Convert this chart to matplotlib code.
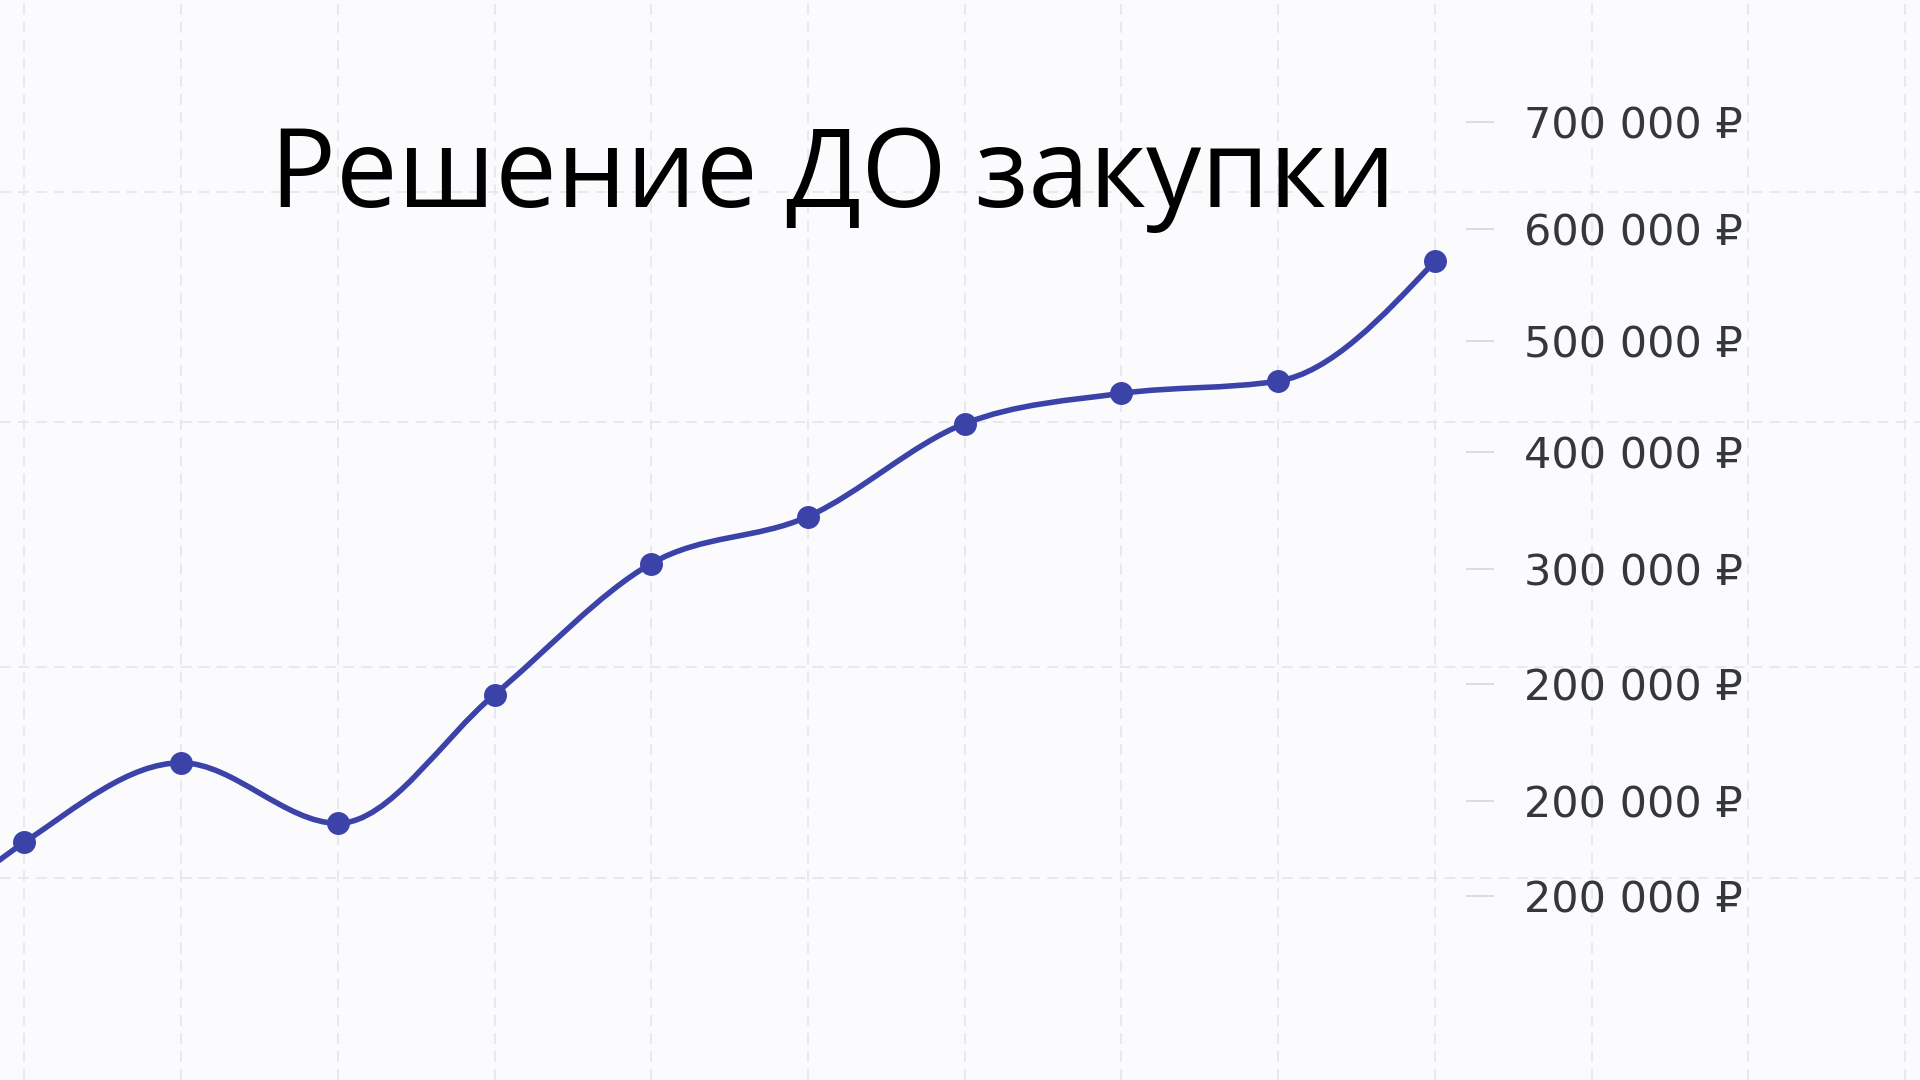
import matplotlib.pyplot as plt
from matplotlib.path import Path
from matplotlib.patches import PathPatch

# chart values
points_x = [-1, 0, 1, 2, 3, 4, 5, 6, 7, 8, 9]
points_y = [-60000, 57000, 128000, 74000, 189000, 306000, 348000, 431000, 458000, 469000, 576000]
tick_values = [700000, 605000, 505000, 406000, 301000, 198000, 94000, 9000]
tick_labels = ["700 000 ₽", "600 000 ₽", "500 000 ₽", "400 000 ₽",
               "300 000 ₽", "200 000 ₽", "200 000 ₽", "200 000 ₽"]
grid_values = [637656, 432031, 213281, 25156]
grid_x = list(range(0, 13))
title = "Решение ДО закупки"

line_color = '#3b42a8'
grid_color = '#e6e7ee'
bg = '#fbfbfd'

x_lim = (-0.156, 12.096)
y_lim = (-155312, 809375)


def sign(v):
    return (v > 0) - (v < 0)


# monotone cubic curve through the points, drawn as Bezier segments
def smooth_path(xs, ys):
    n = len(xs)
    t = [0.0] * n
    for i in range(1, n - 1):
        h0 = xs[i] - xs[i - 1]
        h1 = xs[i + 1] - xs[i]
        s0 = (ys[i] - ys[i - 1]) / h0
        s1 = (ys[i + 1] - ys[i]) / h1
        p = (s0 * h1 + s1 * h0) / (h0 + h1)
        t[i] = (sign(s0) + sign(s1)) * min(abs(s0), abs(s1), 0.5 * abs(p))
    h = xs[1] - xs[0]
    t[0] = (3 * (ys[1] - ys[0]) / h - t[1]) / 2
    h = xs[-1] - xs[-2]
    t[-1] = (3 * (ys[-1] - ys[-2]) / h - t[-2]) / 2

    verts = [(xs[0], ys[0])]
    codes = [Path.MOVETO]
    for i in range(n - 1):
        dx = (xs[i + 1] - xs[i]) / 3
        verts += [(xs[i] + dx, ys[i] + dx * t[i]),
                  (xs[i + 1] - dx, ys[i + 1] - dx * t[i + 1]),
                  (xs[i + 1], ys[i + 1])]
        codes += [Path.CURVE4] * 3
    return Path(verts, codes)


fig = plt.figure(figsize=(19.2, 10.8), dpi=100)
fig.patch.set_facecolor(bg)

ax = fig.add_axes([0, 0, 1, 1])
ax.set_facecolor(bg)
ax.set_xlim(*x_lim)
ax.set_ylim(*y_lim)
for s in ax.spines.values():
    s.set_visible(False)
ax.set_xticks(grid_x)
ax.set_yticks(grid_values)
ax.tick_params(length=0, labelleft=False, labelbottom=False)
ax.grid(True, color=grid_color, linestyle=(0, (6, 4)), linewidth=1.3)
ax.set_axisbelow(True)

ax.add_patch(PathPatch(smooth_path(points_x, points_y), fill=False,
                       edgecolor=line_color, linewidth=4, capstyle='round', zorder=3))
ax.plot(points_x[1:], points_y[1:], 'o', color=line_color, markersize=15.5, zorder=4)

# right-hand value labels
ax2 = fig.add_axes([0, 0, 1480 / 1920, 1])
ax2.patch.set_visible(False)
ax2.set_ylim(*y_lim)
ax2.set_xticks([])
for s in ax2.spines.values():
    s.set_visible(False)
ax2.yaxis.tick_right()
ax2.set_yticks(tick_values)
ax2.set_yticklabels(tick_labels, family=['DejaVu Sans', 'Noto Sans'])
ax2.tick_params(axis='y', direction='inout', length=20, width=1.3, color='#d9dade',
                pad=22, labelsize=31, labelcolor='#34373c')

fig.text(0.4336, 1 - 207 / 1080, title, ha='center', va='baseline',
         fontsize=79, color='black', family=['Open Sans', 'DejaVu Sans'])

fig.savefig('out.png', dpi=100, facecolor=bg)
